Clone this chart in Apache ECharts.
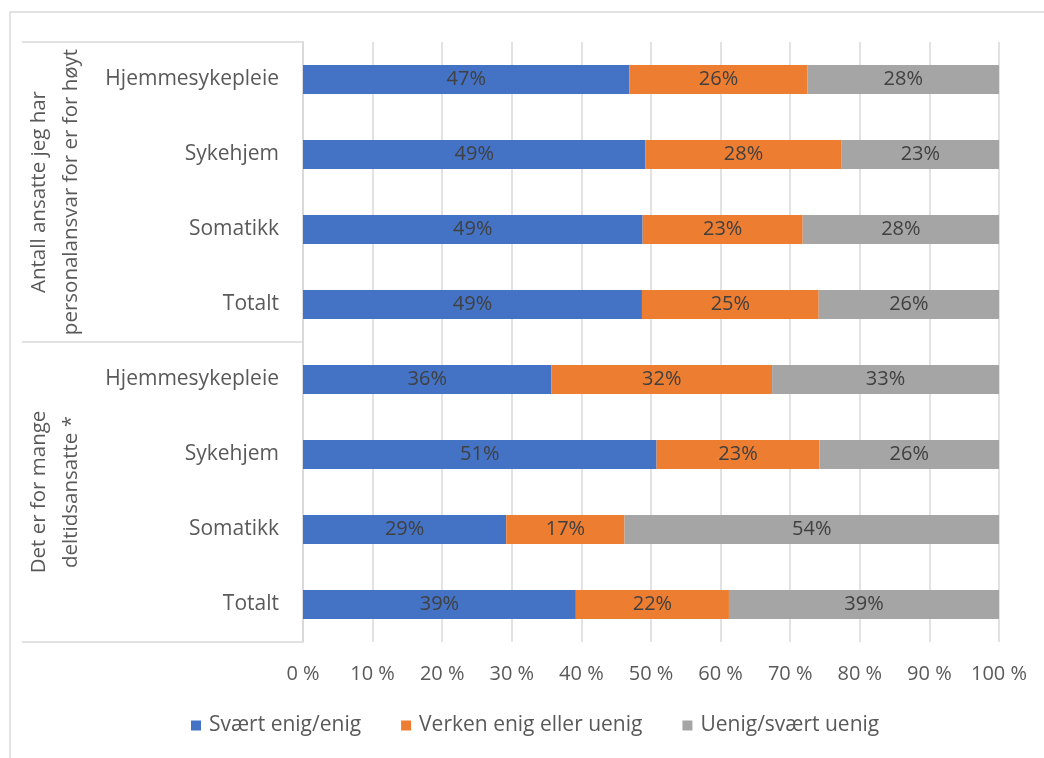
<!DOCTYPE html>
<html>
<head>
<meta charset="utf-8">
<script src="https://cdn.jsdelivr.net/npm/echarts@6/dist/echarts.min.js"></script>
<style>
html,body{margin:0;padding:0;background:#fff;}
#c{width:1044px;height:758px;}
</style>
</head>
<body>
<div id="c"></div>
<script>
const categories = ['Hjemmesykepleie','Sykehjem','Somatikk','Totalt','Hjemmesykepleie','Sykehjem','Somatikk','Totalt'];
const groups = ['Antall ansatte jeg har\npersonalansvar for er for høyt', 'Det er for mange\ndeltidsansatte *'];
const seriesNames = ['Svært enig/enig','Verken enig eller uenig','Uenig/svært uenig'];
const enig = [46.9, 49.2, 48.8, 48.7, 35.7, 50.8, 29.2, 39.2];
const verken = [25.6, 28.2, 23.0, 25.4, 31.7, 23.4, 17.0, 22.0];
const uenig = [27.5, 22.6, 28.2, 25.9, 32.6, 25.8, 53.8, 38.8];
const xTicks = [0,10,20,30,40,50,60,70,80,90,100];
const colors = ['#4472C4','#ED7D31','#A5A5A5'];

const FONT = 'Open Sans';
const chart = echarts.init(document.getElementById('c'));
const values = [enig, verken, uenig];
const option = {
  animation: false,
  textStyle: {fontFamily: FONT},
  color: colors,
  graphic: [{
    type: 'rect', shape: {x: 10, y: 12, width: 1100, height: 800},
    style: {fill: null, stroke: '#d9d9d9', lineWidth: 1.5}, silent: true, z: -1
  }],
  legend: {
    bottom: 17, left: 186,
    itemWidth: 10, itemHeight: 10, itemGap: 40,
    icon: 'rect',
    textStyle: {fontSize: 21, color: '#595959', fontFamily: FONT, padding: [0, 0, 0, 3]},
    data: seriesNames
  },
  grid: {left: 303, right: 45, top: 42, bottom: 116, containLabel: false},
  xAxis: {
    type: 'value', min: xTicks[0], max: xTicks[xTicks.length-1], interval: 10,
    axisLine: {show: false}, axisTick: {show: false},
    splitLine: {lineStyle: {color: '#d9d9d9', width: 1.5}},
    axisLabel: {formatter: v => v + ' %', fontSize: 20, color: '#595959', margin: 22, fontFamily: FONT}
  },
  yAxis: [{
    type: 'category', data: categories, inverse: true,
    axisLine: {lineStyle: {color: '#d9d9d9', width: 1.5}},
    axisTick: {show: false},
    axisLabel: {fontSize: 21, color: '#595959', margin: 24, interval: 0, fontFamily: FONT, padding: [3, 0, 0, 0]}
  }, {
    type: 'category', data: groups, inverse: true, position: 'left', offset: 0,
    axisLine: {show: true, lineStyle: {color: '#d9d9d9', width: 1.5}},
    axisTick: {show: true, interval: 0, length: 281, lineStyle: {color: '#d9d9d9', width: 1.5}},
    axisLabel: {show: true, interval: 0, hideOverlap: false, rotate: 90, fontSize: 20.5, color: '#595959', margin: 216, lineHeight: 32, fontFamily: FONT}
  }],
  series: seriesNames.map((n, i) => ({
    name: n, type: 'bar', stack: 'total', yAxisIndex: 0,
    barWidth: 29,
    data: values[i],
    label: {show: true, position: 'inside', formatter: p => Math.round(p.value) + '%', fontSize: 20, color: '#404040', fontFamily: FONT}
  }))
};
chart.setOption(option);
</script>
</body>
</html>
